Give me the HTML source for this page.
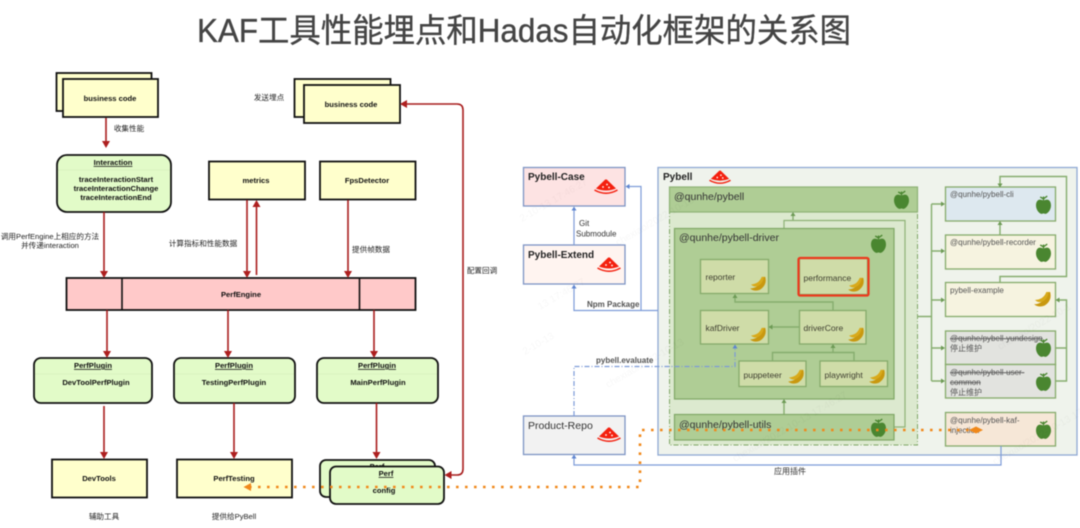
<!DOCTYPE html>
<html><head><meta charset="utf-8">
<style>
html,body{margin:0;padding:0;background:#fff;width:1080px;height:528px;overflow:hidden}
svg{display:block;filter:blur(.45px)}
text{font-family:"Liberation Sans","Noto Sans CJK SC",sans-serif}
.b{font-weight:bold;font-size:7.6px;fill:#111;text-anchor:middle}
.c{font-size:7.6px;fill:#222;text-anchor:middle}
.y{fill:#ffffcc;stroke:#111;stroke-width:1.8}
.g{fill:#e2fbc8;stroke:#111;stroke-width:1.8}
.p{fill:#ffc9c9;stroke:#111;stroke-width:1.8}
.r{stroke:#a81c1c;stroke-width:1.6;fill:none}
.t{font-size:10.5px;fill:#333}
.tb{font-size:10px;fill:#222;font-weight:bold}
.gl{stroke:#86ad6e;stroke-width:1.4;fill:none}
.bl{stroke:#7d9bd8;stroke-width:1.2;fill:none}
.wm{font-family:"Liberation Serif",serif;font-size:10px;fill:#000;opacity:.035}
.lg{fill:#cfdca8;stroke:#86ab6b;stroke-width:1.3}
.ra{fill:#ad1f1f}
.ga{fill:#6d9a55}
.ba{fill:#5f85d0}
</style></head><body>
<svg width="1080" height="528" viewBox="0 0 1080 528" xmlns="http://www.w3.org/2000/svg">
<defs>
<symbol id="melon" viewBox="0 0 24 16"><path d="M2 9.500 L11 .8 Q12 0 13 .8 L22 9.500 Q12 13.500 2 9.500Z" fill="#f4200f"/><path d="M.5 11 Q12 17.500 23.500 11" stroke="#f4200f" stroke-width="1.5" fill="none"/><circle cx="9" cy="8" r=".9" fill="#fff"/><circle cx="13" cy="5.500" r=".9" fill="#fff"/><circle cx="15" cy="8.500" r=".9" fill="#fff"/></symbol>
<symbol id="apple" viewBox="0 0 16 20"><path d="M8 6 C3 3 0 6 0 11 C0 16 4 20 6 20 C7 20 7.500 19.500 8 19.500 C8.500 19.500 9 20 10 20 C12 20 16 16 16 11 C16 6 13 3 8 6Z" fill="#4a8630"/><path d="M8 6 L8 1.500 M8 4 L12 1 M8 4 L4.500 2" stroke="#4a8630" stroke-width="1.4" fill="none"/></symbol>
<symbol id="banana" viewBox="0 0 20 18"><path d="M0 14 Q10 14 15 1 L17 1 Q19.500 10 11 15.500 Q5 18 0 14Z" fill="#c9980f"/><path d="M1 9.500 Q10 9 13 1 L15.500 1 Q14.500 9 8 11.500 Q4 12.500 1 9.500Z" fill="#d8aa1b"/></symbol>
</defs>

<text x="197" y="42" font-size="33" fill="#444" stroke="#444" stroke-width=".35" textLength="654" lengthAdjust="spacingAndGlyphs">KAF工具性能埋点和Hadas自动化框架的关系图</text>

<!-- Left diagram -->
<rect class="y" x="56.500" y="73" width="95" height="38"/>
<rect class="y" x="63" y="79" width="95" height="38"/>
<text class="b" x="110" y="101">business code</text>

<rect class="y" x="294.500" y="79" width="96" height="38"/>
<rect class="y" x="304" y="85" width="96" height="38"/>
<text class="b" x="351" y="107">business code</text>

<rect class="g" x="57" y="155" width="114" height="57" rx="10"/>
<line x1="58" y1="170" x2="170" y2="170" stroke="#d6efbd" stroke-width=".8"/>
<text class="b" x="113" y="165" text-decoration="underline">Interaction</text>
<text class="b" x="116" y="182">traceInteractionStart</text>
<text class="b" x="116" y="191">traceInteractionChange</text>
<text class="b" x="116" y="200">traceInteractionEnd</text>

<rect class="y" x="209" y="161.500" width="96" height="38"/>
<text class="b" x="256" y="183">metrics</text>
<rect class="y" x="320" y="161.500" width="95.500" height="38"/>
<text class="b" x="367" y="183">FpsDetector</text>

<rect class="p" x="66.500" y="278" width="349" height="32"/>
<line x1="122" y1="278" x2="122" y2="310" stroke="#111" stroke-width="1.6"/>
<line x1="359.500" y1="278" x2="359.500" y2="310" stroke="#111" stroke-width="1.6"/>
<text class="b" x="241" y="297">PerfEngine</text>

<rect class="g" x="34" y="358" width="118" height="45" rx="7"/>
<rect class="g" x="174" y="358" width="121" height="45" rx="7"/>
<rect class="g" x="317" y="358" width="121" height="45" rx="7"/>
<line x1="35" y1="374" x2="151" y2="374" stroke="#d6efbd" stroke-width=".8"/>
<line x1="175" y1="374" x2="294" y2="374" stroke="#d6efbd" stroke-width=".8"/>
<line x1="318" y1="374" x2="437" y2="374" stroke="#d6efbd" stroke-width=".8"/>
<text class="b" x="93" y="368" text-decoration="underline">PerfPlugin</text>
<text class="b" x="234" y="368" text-decoration="underline">PerfPlugin</text>
<text class="b" x="377" y="368" text-decoration="underline">PerfPlugin</text>
<text class="b" x="96" y="385">DevToolPerfPlugin</text>
<text class="b" x="234" y="385">TestingPerfPlugin</text>
<text class="b" x="378" y="385">MainPerfPlugin</text>

<rect class="y" x="52" y="459.500" width="95" height="38"/>
<text class="b" x="99" y="481">DevTools</text>
<rect class="y" x="177" y="459.500" width="115" height="38"/>
<text class="b" x="234" y="481">PerfTesting</text>

<rect class="g" x="320" y="460" width="115" height="37" rx="6"/>
<text class="b" x="377" y="469">Perf</text>
<rect class="g" x="330" y="466.500" width="114" height="37.500" rx="6"/>
<text class="b" x="386" y="476" text-decoration="underline">Perf</text>
<text class="b" x="384" y="493">config</text>

<!-- red connectors -->
<path class="r" d="M106 118V144"/><path class="ra" d="M102 141L110 141L106 148Z"/>
<path class="r" d="M104 212V274"/><path class="ra" d="M100 271L108 271L104 278Z"/>
<path class="r" d="M247 200V274"/><path class="ra" d="M243 271L251 271L247 278Z"/>
<path class="r" d="M256.500 275V203"/><path class="ra" d="M252.500 207L260.500 207L256.500 200Z"/>
<path class="r" d="M348 200V274"/><path class="ra" d="M344 271L352 271L348 278Z"/>
<path class="r" d="M107 310V354"/><path class="ra" d="M103 351L111 351L107 358Z"/>
<path class="r" d="M228 310V354"/><path class="ra" d="M224 351L232 351L228 358Z"/>
<path class="r" d="M374 310V354"/><path class="ra" d="M370 351L378 351L374 358Z"/>
<path class="r" d="M104 406V455"/><path class="ra" d="M100 452L108 452L104 459Z"/>
<path class="r" d="M234 403V455"/><path class="ra" d="M230 452L238 452L234 459Z"/>
<path class="r" d="M376.500 403V455"/><path class="ra" d="M372.500 452L380.500 452L376.500 459Z"/>
<path class="r" d="M403 104H457Q463 104 463 110V469Q463 475 457 475H448"/>
<path class="ra" d="M400 104L407 100L407 108Z"/><path class="ra" d="M444.500 475L451.500 471L451.500 479Z"/>

<text class="c" x="129" y="131">收集性能</text>
<text class="c" x="50" y="239">调用PerfEngine上相应的方法</text>
<text class="c" x="50" y="248">并传递interaction</text>
<text class="c" x="203" y="246">计算指标和性能数据</text>
<text class="c" x="371" y="252">提供帧数据</text>
<text class="c" x="269" y="100">发送埋点</text>
<text class="c" x="482" y="273">配置回调</text>
<text class="c" x="104" y="519">辅助工具</text>
<text class="c" x="234" y="519">提供给PyBell</text>

<!-- Right diagram -->
<rect x="523.500" y="167.500" width="101.500" height="38.500" fill="#fde3e3" stroke="#7d94c4" stroke-width="1.3"/>
<text class="tb" x="528" y="180">Pybell-Case</text>
<use href="#melon" x="594" y="179" width="24" height="16"/>
<rect x="523.500" y="245" width="101.500" height="39" fill="#fff4f0" stroke="#7d94c4" stroke-width="1.3"/>
<text class="tb" x="528" y="258">Pybell-Extend</text>
<use href="#melon" x="597" y="257" width="24" height="16"/>
<rect x="523.500" y="416" width="101.500" height="38.500" fill="#f2f2f2" stroke="#7d94c4" stroke-width="1.3"/>
<text class="t" x="528" y="429">Product-Repo</text>
<use href="#melon" x="597" y="427" width="24" height="16"/>

<rect x="658" y="167.500" width="419" height="287.500" fill="#eff3ec" stroke="#8fa9d4" stroke-width="1.3"/>
<text class="tb" x="663" y="180">Pybell</text>
<use href="#melon" x="709" y="170" width="22" height="15"/>

<rect x="669.500" y="212" width="248" height="233" fill="#dce9cf" stroke="#7fa766" stroke-width="1" stroke-dasharray="5 2 1 2"/>
<rect x="669.500" y="187" width="248" height="25" fill="#afcd95" stroke="#8eb276" stroke-width="1.2"/>
<text class="t" x="674" y="200">@qunhe/pybell</text>
<use href="#apple" x="894" y="190" width="15" height="19"/>

<path d="M784 228V220.500H905V427H894" stroke="#8eb276" stroke-width="1.2" fill="none"/>
<path d="M793 220V214" class="gl"/><path class="ga" d="M793 212L790.500 216L795.500 216Z"/>

<rect x="674.500" y="228.500" width="219.500" height="170.500" fill="#afcd95" stroke="#7fa766" stroke-width="1.2"/>
<text class="t" x="679" y="241">@qunhe/pybell-driver</text>
<use href="#apple" x="871" y="234" width="15" height="19"/>

<rect x="674.500" y="414.500" width="219.500" height="25.500" fill="#afcd95" stroke="#7fa766" stroke-width="1.2"/>
<text class="t" x="679" y="428">@qunhe/pybell-utils</text>
<use href="#apple" x="871" y="418" width="15" height="19"/>

<path d="M784 414V401" class="gl"/><path class="ga" d="M784 399L781.500 403L786.500 403Z"/>

<rect class="lg" x="700.500" y="259.500" width="68" height="34"/>
<rect class="lg" x="799.500" y="258.500" width="68" height="36"/>
<rect x="798.500" y="258" width="70" height="37.500" rx="1.500" fill="none" stroke="#ec3a1d" stroke-width="2.2"/>
<rect class="lg" x="700.500" y="310.500" width="68" height="33.500"/>
<rect class="lg" x="799.500" y="310.500" width="66.500" height="33.500"/>
<rect class="lg" x="739" y="361" width="67" height="25.500"/>
<rect class="lg" x="820" y="361" width="67.500" height="25.500"/>
<g font-size="8.500" fill="#3f3f30">
<text x="705.500" y="280">reporter</text>
<text x="803.500" y="281">performance</text>
<text x="705.500" y="331">kafDriver</text>
<text x="803.500" y="331">driverCore</text>
<text x="743.500" y="378">puppeteer</text>
<text x="824.500" y="378">playwright</text>
</g>
<use href="#banana" x="750" y="276" width="18" height="16"/>
<use href="#banana" x="848" y="277" width="18" height="16"/>
<use href="#banana" x="750" y="327" width="18" height="16"/>
<use href="#banana" x="848" y="327" width="18" height="16"/>
<use href="#banana" x="788" y="369" width="18" height="16"/>
<use href="#banana" x="869" y="369" width="18" height="16"/>

<path class="gl" d="M833 310V302H735V296"/><path class="ga" d="M735 294L732.500 298L737.500 298Z"/>
<path class="gl" d="M799 327H771"/><path class="ga" d="M768.500 327L772.500 324.500L772.500 329.500Z"/>
<path class="gl" d="M772.500 361V352.500H854V361M833 352.500V346"/><path class="ga" d="M833 344L830.500 348L835.500 348Z"/>

<!-- right column -->
<g stroke="#86ab6b" stroke-width="1.3">
<rect x="945.500" y="187" width="110" height="34" fill="#dde8ef"/>
<rect x="945.500" y="235" width="110" height="34" fill="#f6f3e0"/>
<rect x="945.500" y="282.500" width="110" height="34" fill="#f6f3e0"/>
<rect x="945.500" y="331" width="110" height="33.500" fill="#e2e3df"/>
<rect x="945.500" y="364.500" width="110" height="33.500" fill="#e2e3df"/>
<rect x="945.500" y="412.500" width="110" height="33.500" fill="#f6e7d7"/>
</g>
<g font-size="8" fill="#555">
<text x="950" y="197">@qunhe/pybell-cli</text>
<text x="950" y="245">@qunhe/pybell-recorder</text>
<text x="950" y="293">pybell-example</text>
<text x="950" y="341" text-decoration="line-through">@qunhe/pybell-yundesign</text>
<text x="950" y="351">停止维护</text>
<text x="950" y="375" text-decoration="line-through">@qunhe/pybell-user-</text>
<text x="950" y="385" text-decoration="line-through">common</text>
<text x="950" y="395">停止维护</text>
<text x="950" y="423">@qunhe/pybell-kaf-</text>
<text x="950" y="433">injection</text>
</g>
<use href="#apple" x="1036" y="195" width="15" height="19"/>
<use href="#apple" x="1036" y="243" width="15" height="19"/>
<use href="#banana" x="1034" y="291" width="19" height="17"/>
<use href="#apple" x="1036" y="338" width="15" height="19"/>
<use href="#apple" x="1036" y="372" width="15" height="19"/>
<use href="#apple" x="1036" y="420" width="15" height="19"/>

<path class="gl" d="M917 316.500H931.500M931.500 204V381M931.500 204H943M931.500 251H943M931.500 300H943M931.500 348H943M931.500 381H943"/>
<path class="ga" d="M945 204L941 201.500L941 206.500Z"/><path class="ga" d="M945 251L941 248.500L941 253.500Z"/><path class="ga" d="M945 300L941 297.500L941 302.500Z"/><path class="ga" d="M945 348L941 345.500L941 350.500Z"/><path class="ga" d="M945 381L941 378.500L941 383.500Z"/>
<path class="gl" d="M1000 282V276.500H1066.500V176.500H1000V185"/><path class="ga" d="M1000 187.500L997.500 183.500L1002.500 183.500Z"/>
<path class="gl" d="M1000 235V223"/><path class="ga" d="M1000 221L997.500 225L1002.500 225Z"/>
<path class="gl" d="M1056 348H1066.500V300H1058M1056 381H1066.500V348"/><path class="ga" d="M1055.500 300L1059.500 297.500L1059.500 302.500Z"/>

<!-- blue connectors -->
<path class="bl" d="M658 310.500H574V287"/><path class="ba" d="M574 284.500L571.500 288.500L576.500 288.500Z"/>
<path class="bl" d="M641 310.500V186.500H628"/><path class="ba" d="M625.500 186.500L629.500 184L629.500 189Z"/>
<path class="bl" d="M574 245V209"/><path class="ba" d="M574 206.500L571.500 210.500L576.500 210.500Z"/>
<path class="bl" d="M574 416V366.500H735V347" stroke-dasharray="5 2 1 2"/><path class="ba" d="M735 344.500L732.500 348.500L737.500 348.500Z"/>
<path class="bl" d="M574 457V465H1001V446"/><path class="ba" d="M574 454.500L571.500 458.500L576.500 458.500Z"/>

<text x="579" y="226" font-size="8" fill="#333">Git</text>
<text x="576" y="236.500" font-size="8" fill="#333">Submodule</text>
<text x="587" y="307" font-size="8" fill="#333" font-weight="bold" opacity=".85">Npm Package</text>
<text x="596" y="363" font-size="8" fill="#333" font-weight="bold" opacity=".85">pybell.evaluate</text>
<text x="790" y="474" font-size="8" fill="#333" text-anchor="middle">应用插件</text>

<!-- orange dotted -->
<path d="M249 487H640V430H970" stroke="#f0881a" stroke-width="2.6" stroke-dasharray="2.600 6.400" fill="none"/>
<path d="M243.500 487L251 483L251 491Z" fill="#f0881a"/>
<path d="M969 430L976 426.500L976 433.500Z M983 430L976 426.500L976 433.500Z" fill="#f0881a"/>

<!-- watermarks -->
<g class="wm">
<text transform="translate(522 222) rotate(-30)">2-10-13 17:46:27</text>
<text transform="translate(618 246) rotate(-30)">chexiao/2022-10-13</text>
<text transform="translate(608 388) rotate(-30)">chexiao/2022-10-13</text>
<text transform="translate(525 355) rotate(-30)">2-10-13</text>
<text transform="translate(540 310) rotate(-30)">13 17:46:27</text>
<text transform="translate(1000 350) rotate(-30)">chexiao/2022-10-1</text>
<text transform="translate(995 465) rotate(-30)">chexiao/2022-10-13 17</text>
<text transform="translate(735 462) rotate(-30)">chexiao/2022-10-13 17:46:27</text>
</g>
</svg>
</body></html>
